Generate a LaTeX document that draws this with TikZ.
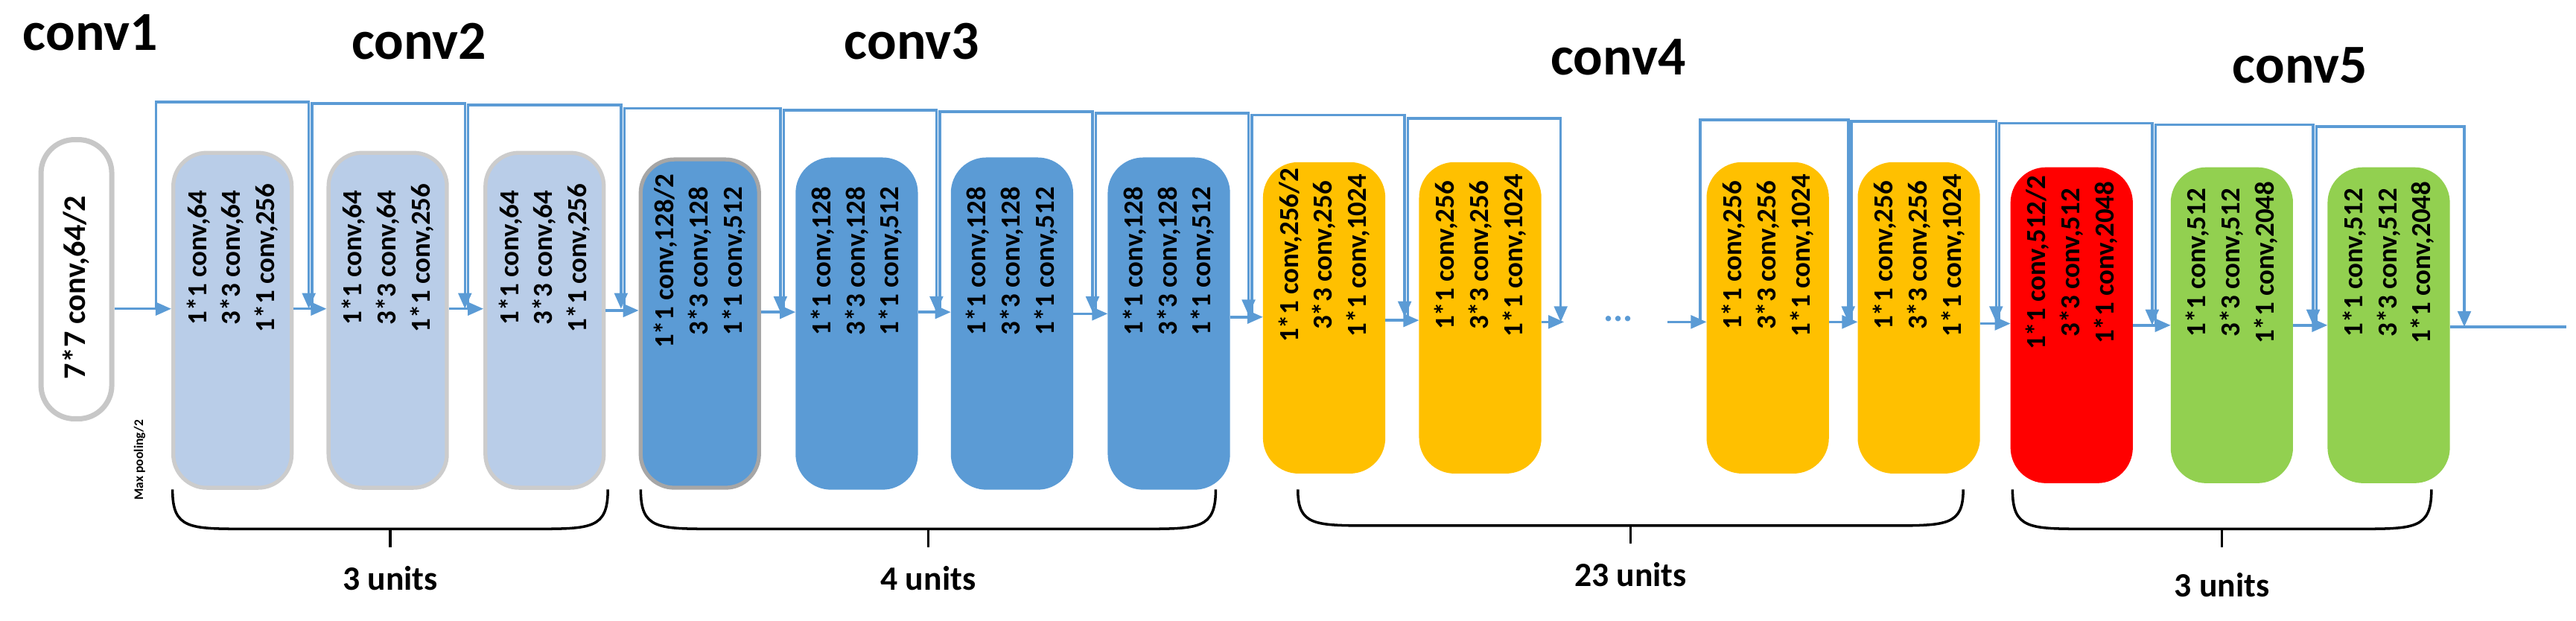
\documentclass[tikz,border=0pt]{standalone}
\usepackage{fontspec}
\setmainfont{Carlito}
\usetikzlibrary{arrows.meta}
\definecolor{lb}{HTML}{B9CDE8}
\definecolor{mb}{HTML}{5B9BD5}
\definecolor{yo}{HTML}{FFC000}
\definecolor{rd}{HTML}{FF0000}
\definecolor{gr}{HTML}{92D050}
\definecolor{ln}{HTML}{5B9BD5}
\tikzset{
  unit/.style={rounded corners=0.45cm, minimum width=1.59cm, inner sep=0pt},
  lab/.style={rotate=90, align=center, font=\bfseries\fontsize{10.5}{13}\selectfont},
  arr/.style={draw=ln, line width=1pt, -{Triangle[width=5pt,length=6pt]}},
  ttl/.style={font=\bfseries\fontsize{21}{24}\selectfont},
  unt/.style={font=\bfseries\fontsize{13}{15}\selectfont},
  brc/.style={draw=black, line width=1pt}
}
\begin{document}
\begin{tikzpicture}[x=0.02206cm, y=-0.02206cm]
\useasboundingbox (0,0) rectangle (1568,378);
% titles
\node[ttl] (t1) at (55,20) {conv1};
\node[ttl] (t2) at (255,25) {conv2};
\node[ttl] (t3) at (555,25) {conv3};
\node[ttl] (t4) at (985,35) {conv4};
\node[ttl] (t5) at (1400,40) {conv5};
% conv1
\node[unit, draw=black!22, line width=2pt, fill=white, minimum width=0.95cm, minimum height=3.75cm, rounded corners=0.45cm] (c1) at (46.5,170) {};
\node[lab, font=\bfseries\fontsize{12}{14}\selectfont] (c1t) at (46.5,175) {7*7 conv,64/2};
\node[rotate=90, font=\bfseries\fontsize{5}{6}\selectfont] (mp) at (85,280) {Max pooling/2};
% boxes
\foreach \n/\x/\y/\h/\c/\d/\t in {
 a1/141.5/195/4.5/lb/black!20/{1*1 conv,64\\3*3 conv,64\\1*1 conv,256},
 a2/236/195/4.5/lb/black!20/{1*1 conv,64\\3*3 conv,64\\1*1 conv,256},
 a3/331.5/195/4.5/lb/black!20/{1*1 conv,64\\3*3 conv,64\\1*1 conv,256},
 b1/426/197/4.41/mb/black!35/{1*1 conv,128/2\\3*3 conv,128\\1*1 conv,512},
 b2/521.5/197/4.41/mb/mb/{1*1 conv,128\\3*3 conv,128\\1*1 conv,512},
 b3/616/197/4.41/mb/mb/{1*1 conv,128\\3*3 conv,128\\1*1 conv,512},
 b4/711.5/197/4.41/mb/mb/{1*1 conv,128\\3*3 conv,128\\1*1 conv,512},
 d1/806/193.5/4.13/yo/yo/{1*1 conv,256/2\\3*3 conv,256\\1*1 conv,1024},
 d2/901/193.5/4.13/yo/yo/{1*1 conv,256\\3*3 conv,256\\1*1 conv,1024},
 d3/1076/193.5/4.13/yo/yo/{1*1 conv,256\\3*3 conv,256\\1*1 conv,1024},
 d4/1168/193.5/4.13/yo/yo/{1*1 conv,256\\3*3 conv,256\\1*1 conv,1024},
 e1/1261/198/4.19/rd/rd/{1*1 conv,512/2\\3*3 conv,512\\1*1 conv,2048},
 e2/1358.5/198/4.19/gr/gr/{1*1 conv,512\\3*3 conv,512\\1*1 conv,2048},
 e3/1454/198/4.19/gr/gr/{1*1 conv,512\\3*3 conv,512\\1*1 conv,2048}}{
  \node[unit, fill=\c, draw=\d, line width=1.5pt, minimum height=\h cm] (\n) at (\x,\y) {};
  \node[lab] (\n t) at (\x,\y-38) {\t};
}
% main line
\draw[arr] (c1.east |- 0,188) -- (a1.west |- 0,188);
\draw[arr] (a1.east |- 0,188) -- (a2.west |- 0,188);
\draw[arr] (a2.east |- 0,188) -- (a3.west |- 0,188);
\draw[arr] (a3.east |- 0,189) -- (b1.west |- 0,189);
\draw[arr] (b1.east |- 0,190) -- (b2.west |- 0,190);
\draw[arr] (b2.east |- 0,190) -- (b3.west |- 0,190);
\draw[arr] (b3.east |- 0,191) -- (b4.west |- 0,191);
\draw[arr] (b4.east |- 0,193) -- (d1.west |- 0,193);
\draw[arr] (d1.east |- 0,195) -- (d2.west |- 0,195);
\coordinate (g1) at (952,196);
\coordinate (g2) at (1015,196);
\draw[arr] (d2.east |- 0,196) -- (g1);
\node[text=ln, font=\bfseries\fontsize{14}{14}\selectfont] (dots) at (985,194) {...};
\draw[arr] (g2) -- (d3.west |- 0,196);
\draw[arr] (d3.east |- 0,196) -- (d4.west |- 0,196);
\draw[arr] (d4.east |- 0,197) -- (e1.west |- 0,197);
\draw[arr] (e1.east |- 0,198) -- (e2.west |- 0,198);
\draw[arr] (e2.east |- 0,198) -- (e3.west |- 0,198);
\coordinate (out) at (1562,199);
\draw[draw=ln, line width=1pt] (e3.east |- 0,199) -- (out);
% skip connections
\foreach \xa/\xb/\tp/\ly in {95/188/62/188, 190/283/63/188, 285/378/64/188,
  380/475/66/190, 477/570/67/190, 572/665/68/190, 667/760/69/192,
  762/855/70/193, 857/950/72/196, 1035/1125/73/196, 1127/1215/74/196,
  1217/1310/75/198, 1312/1408/76/198, 1410/1500/77/199}{
  \draw[arr] (\xa,\ly) -- (\xa,\tp) -- (\xb,\tp) -- (\xb,\ly);
}
% braces
\foreach \l/\r/\yb/\lbl/\ly/\nm in {105/370/322/3 units/352/u2, 390/740/322/4 units/352/u3,
  790/1195/320/23 units/350/u4, 1225/1480/322/3 units/356/u5}{
  \draw[brc] (\l,298) .. controls (\l,\yb) and (\l+10,\yb) .. (\l+45,\yb) -- (\r-45,\yb) .. controls (\r-10,\yb) and (\r,\yb) .. (\r,298);
  \draw[brc] ({(\l+\r)/2},\yb) -- ({(\l+\r)/2},\yb+11);
  \node[unt] (\nm) at ({(\l+\r)/2},\ly) {\lbl};
}
\end{tikzpicture}
\end{document}
